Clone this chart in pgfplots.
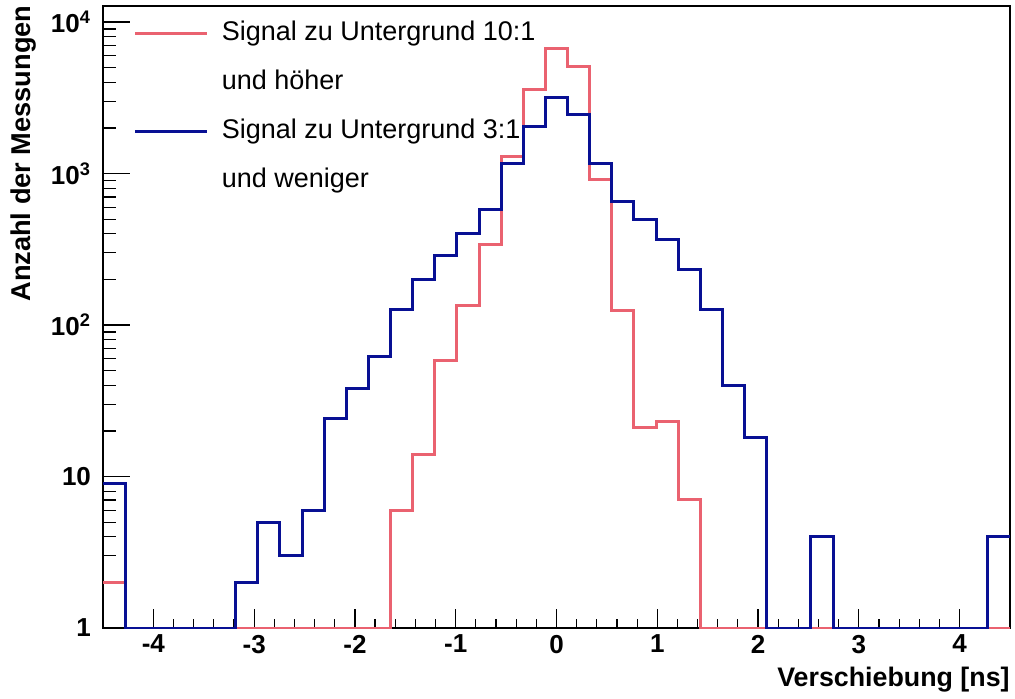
\documentclass[border=0pt]{standalone}
\usepackage{fontspec}
\setmainfont{Liberation Sans}
\usepackage{pgfplots}
\pgfplotsset{compat=1.18}
\definecolor{histred}{RGB}{234,98,112}
\definecolor{histblue}{RGB}{8,16,148}
\begin{document}
\begin{tikzpicture}
\useasboundingbox (-51.5pt,-35pt) rectangle (456pt,314pt);
\begin{axis}[
  scale only axis, width=453.5pt, height=311pt,
  xmin=-4.5, xmax=4.5, ymin=1, ymax=12760, ymode=log,
  axis line style={line width=0.75pt},
  tick align=inside, xtick pos=bottom, ytick pos=left,
  tick style={line width=0.6pt, black},
  xtick={-4,-3,-2,-1,0,1,2,3,4},
  xticklabels={-4,-3,-2,-1,0,1,2,3,4},
  minor x tick num=4,
  ytick={1,10,100,1000,10000},
  yticklabels={1,10,10\textsuperscript{2},10\textsuperscript{3},10\textsuperscript{4}},
  major tick length=13.5pt, minor tick length=6.3pt,
  xtick style={/pgfplots/major tick length=9.3pt, /pgfplots/minor tick length=4.7pt},
  ticklabel style={font=\fontsize{13}{15}\selectfont\bfseries},
  yticklabel style={xshift=-2.5pt},
  xlabel={Verschiebung [ns]},
  xlabel style={at={(axis description cs:1,-0.0944)}, anchor=base east, inner sep=0pt, font=\fontsize{13.4}{15}\selectfont\bfseries},
  ylabel={Anzahl der Messungen},
  ylabel style={at={(axis description cs:-0.0799,1.0016)}, anchor=base east, inner sep=0pt, font=\fontsize{13.6}{15}\selectfont\bfseries},
  legend image code/.code={\draw[#1] (0pt,0pt) -- (36pt,0pt);},
  legend cell align=left,
  legend style={draw=none, fill=none, at={(axis description cs:0.0335,0.978)}, anchor=north west,
    font=\fontsize{13.5}{16}\selectfont, inner sep=0pt, column sep=6.5pt, row sep=11.65pt,
    nodes={inner sep=0pt, text height=10pt, text depth=3pt}},
]
\addplot[const plot mark left, histred, line width=1.5pt] coordinates {
(-4.5,2) (-4.28049,1) (-4.06098,1) (-3.84146,1) (-3.62195,1) (-3.40244,1)
(-3.18293,1) (-2.96341,1) (-2.74390,1) (-2.52439,1) (-2.30488,1) (-2.08537,1)
(-1.86585,1) (-1.64634,6) (-1.42683,14) (-1.20732,58) (-0.98780,134) (-0.76829,341)
(-0.54878,1304) (-0.32927,3596) (-0.10976,6675) (0.10976,5100) (0.32927,912) (0.54878,125)
(0.76829,21) (0.98780,23) (1.20732,7) (1.42683,1) (1.64634,1) (1.86585,1)
(2.08537,1) (2.30488,1) (2.52439,1) (2.74390,1) (2.96341,1) (3.18293,1)
(3.40244,1) (3.62195,1) (3.84146,1) (4.06098,1) (4.28049,1) (4.5,1)
};
\addlegendentry{Signal zu Untergrund 10:1}
\addlegendimage{empty legend}
\addlegendentry{und höher}
\addplot[const plot mark left, histblue, line width=1.5pt] coordinates {
(-4.5,9) (-4.28049,1) (-4.06098,1) (-3.84146,1) (-3.62195,1) (-3.40244,1)
(-3.18293,2) (-2.96341,5) (-2.74390,3) (-2.52439,6) (-2.30488,24) (-2.08537,38)
(-1.86585,62) (-1.64634,127) (-1.42683,199) (-1.20732,288) (-0.98780,399) (-0.76829,578)
(-0.54878,1162) (-0.32927,2058) (-0.10976,3185) (0.10976,2448) (0.32927,1173) (0.54878,652)
(0.76829,499) (0.98780,366) (1.20732,232) (1.42683,127) (1.64634,40) (1.86585,18)
(2.08537,1) (2.30488,1) (2.52439,4) (2.74390,1) (2.96341,1) (3.18293,1)
(3.40244,1) (3.62195,1) (3.84146,1) (4.06098,1) (4.28049,4) (4.5,4)
};
\addlegendentry{Signal zu Untergrund 3:1}
\addlegendimage{empty legend}
\addlegendentry{und weniger}
\end{axis}
\end{tikzpicture}
\end{document}
